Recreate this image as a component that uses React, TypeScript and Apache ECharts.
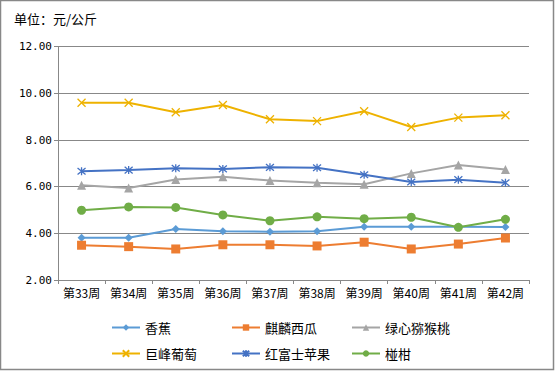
import React, { useEffect, useRef } from "react";
import * as echarts from "echarts";

const categories = ["第33周", "第34周", "第35周", "第36周", "第37周", "第38周", "第39周", "第40周", "第41周", "第42周"];
const banana = [3.81, 3.81, 4.19, 4.09, 4.07, 4.09, 4.28, 4.28, 4.28, 4.27];
const watermelon = [3.49, 3.43, 3.33, 3.51, 3.51, 3.46, 3.62, 3.33, 3.54, 3.8];
const kiwi = [6.06, 5.94, 6.31, 6.43, 6.26, 6.17, 6.1, 6.57, 6.93, 6.74];
const grape = [9.6, 9.6, 9.19, 9.5, 8.89, 8.81, 9.23, 8.56, 8.96, 9.06];
const apple = [6.66, 6.71, 6.79, 6.76, 6.83, 6.81, 6.51, 6.2, 6.3, 6.17];
const orange = [4.99, 5.13, 5.11, 4.79, 4.54, 4.71, 4.63, 4.69, 4.26, 4.6];
const yTicks = { min: 2, max: 12, interval: 2 };

const FONT = "'Noto Sans CJK SC', sans-serif";
const X_SYMBOL = "path://M0,0L10,10M10,0L0,10";
const STAR_SYMBOL = "path://M0,0L10,10M10,0L0,10M5,-1L5,11";

export default function App() {
  const ref = useRef<HTMLDivElement>(null);
  useEffect(() => {
    if (!ref.current) return;
    const chart = echarts.init(ref.current, undefined, { renderer: "svg" });
    const mk = (name: string, data: number[], color: string, symbol: string, size: number, stroke = false) => ({
      name,
      type: "line",
      data,
      symbol,
      symbolSize: size,
      showAllSymbol: true,
      lineStyle: { color, width: 2 },
      itemStyle: stroke
        ? { color: "none", borderColor: color, borderWidth: 1.3 }
        : { color, borderWidth: 0 },
      emphasis: { disabled: true },
    });
    const legendBase = {
      orient: "vertical",
      itemWidth: 28,
      itemHeight: 8,
      itemGap: 13,
      textStyle: { fontFamily: FONT, fontSize: 13, color: "#000" },
      selectedMode: false,
    };
    chart.setOption({
      animation: false,
      backgroundColor: "#fff",
      graphic: [
        {
          type: "rect",
          shape: { x: 0.5, y: 0.5, width: 553, height: 369 },
          style: { fill: "none", stroke: "#888", lineWidth: 1.5 },
          silent: true,
        },
        {
          type: "text",
          left: 14,
          top: 12,
          style: { text: "单位：元/公斤", font: `13px ${FONT}`, fill: "#000" },
        },
      ],
      grid: { left: 58, right: 26, top: 46.7, bottom: 91, containLabel: false },
      legend: [
        { ...legendBase, left: 106, top: 316, data: ["香蕉", "巨峰葡萄"] },
        { ...legendBase, left: 226, top: 316, data: ["麒麟西瓜", "红富士苹果"] },
        { ...legendBase, left: 346, top: 316, data: ["绿心猕猴桃", "椪柑"] },
      ],
      xAxis: {
        type: "category",
        data: categories,
        boundaryGap: true,
        axisLine: { lineStyle: { color: "#888", width: 1 } },
        axisTick: { show: true, length: 4, interval: 0, lineStyle: { color: "#888" } },
        axisLabel: { fontFamily: FONT, fontSize: 12, color: "#000", margin: 6, interval: 0 },
      },
      yAxis: {
        type: "value",
        min: yTicks.min,
        max: yTicks.max,
        interval: yTicks.interval,
        axisLine: { show: true, lineStyle: { color: "#888", width: 1 } },
        axisTick: { show: true, length: 4, lineStyle: { color: "#888" } },
        axisLabel: {
          fontFamily: "'DejaVu Sans Mono', monospace",
          fontSize: 11,
          color: "#000",
          margin: 6,
          formatter: (v: number) => v.toFixed(2),
        },
        splitLine: { show: true, lineStyle: { color: "#888", width: 1 } },
      },
      series: [
        mk("香蕉", banana, "#5B9BD5", "diamond", 8),
        mk("麒麟西瓜", watermelon, "#ED7D31", "rect", 9),
        mk("绿心猕猴桃", kiwi, "#A5A5A5", "triangle", 9),
        mk("巨峰葡萄", grape, "#EEB200", X_SYMBOL, 8, true),
        mk("红富士苹果", apple, "#4472C4", STAR_SYMBOL, 8, true),
        mk("椪柑", orange, "#70AD47", "circle", 9),
      ],
    });
    return () => chart.dispose();
  }, []);
  return (
    <div
      ref={ref}
      style={{ position: "fixed", left: 0, top: 0, width: 555, height: 371 }}
    />
  );
}
